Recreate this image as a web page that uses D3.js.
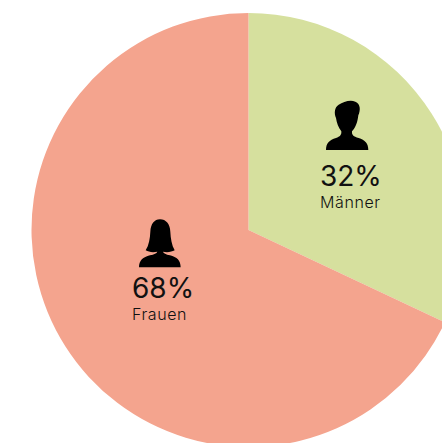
<!DOCTYPE html>
<html lang="de">
<head>
    <meta charset="UTF-8">
    <title>Männer und Frauen</title>
    <style>
    html, body { margin: 0; padding: 0; background: #fff; overflow: hidden; }
    text { font-family: "Inter", sans-serif; fill: #111; }
    .pct { font-size: 28px; }
    .name { font-size: 16px; font-weight: 300; letter-spacing: 0.6px; }
    </style>
</head>
<body>
    <svg width="442" height="443"></svg>
    <script src="https://d3js.org/d3.v7.min.js"></script>
    <script>
    var categories = ["Männer", "Frauen"];
    var values = [32, 68];
    var colors = ["#d6e09e", "#f4a48e"];

    // icons, in a 3x grid
    var manIcon = "M78 180C78 160 88 150 108 144C120 140 125 135 124 124C115 112 110 98 108 84C102 70 103 52 116 44C130 36 150 28 166 35C182 42 182 60 175 76C173 95 168 112 156 124C155 135 160 140 176 144C195 150 205 160 205 180Z";
    var womanIcon = "M72 172C72 152 84 141 105 136C118 133 125 130 127 125C113 128 101 126 92 121C102 105 105 85 106 65C107 42 118 28 135 28C153 28 165 42 166 65C167 85 170 105 179 121C170 126 156 128 144 125C146 130 152 133 165 136C186 141 197 152 197 172Z";
    var icons = [manIcon, womanIcon];
    var iconOrigin = [[300, 90], [115, 210]];
    var labelX = [320, 132];
    var pctY = [186, 298];
    var nameY = [208, 320];

    var svg = d3.select("svg"),
        cx = 248.5,
        cy = 230,
        radius = 217;

    var pie = d3.pie().sort(null);
    var arc = d3.arc().innerRadius(0).outerRadius(radius);

    svg.append("g")
        .attr("transform", "translate(" + cx + "," + cy + ")")
        .selectAll("path")
        .data(pie(values))
        .enter().append("path")
        .attr("d", arc)
        .attr("fill", function (d, i) { return colors[i]; });

    var labels = svg.selectAll(".label")
        .data(categories)
        .enter().append("g")
        .attr("class", "label");

    labels.append("path")
        .attr("d", function (d, i) { return icons[i]; })
        .attr("fill", "#000")
        .attr("transform", function (d, i) {
            return "translate(" + iconOrigin[i][0] + "," + iconOrigin[i][1] + ") scale(0.3333)";
        });

    labels.append("text")
        .attr("class", "pct")
        .attr("x", function (d, i) { return labelX[i]; })
        .attr("y", function (d, i) { return pctY[i]; })
        .text(function (d, i) { return values[i] + "%"; });

    labels.append("text")
        .attr("class", "name")
        .attr("x", function (d, i) { return labelX[i]; })
        .attr("y", function (d, i) { return nameY[i]; })
        .text(function (d) { return d; });
    </script>
</body>
</html>
